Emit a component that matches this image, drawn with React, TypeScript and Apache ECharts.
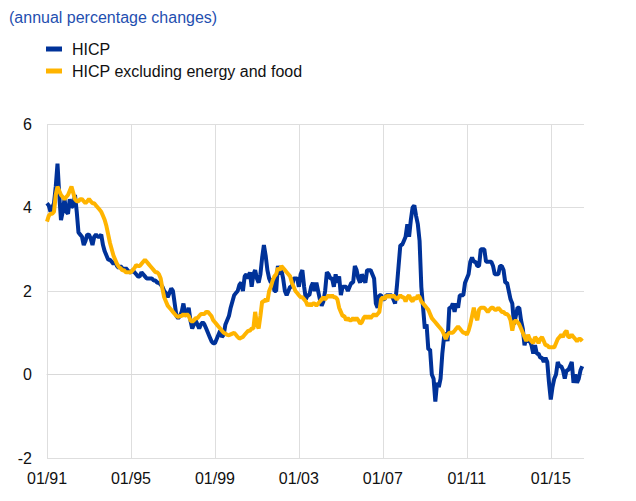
import React, { useEffect, useRef } from "react";
import * as echarts from "echarts";

// Monthly categories Jan 1991 .. Aug 2016 (last one left empty)
const startYear = 1991;
const monthCount = 308;
const categories: string[] = [];
for (let i = 0; i < monthCount; i++) {
  const y = startYear + Math.floor(i / 12);
  const m = (i % 12) + 1;
  categories.push(String(m).padStart(2, "0") + "/" + String(y % 100).padStart(2, "0"));
}

const yTicks = { min: -2, max: 6, interval: 2 };

// HICP, annual % changes, Jan 1991 - Jul 2016
const hicp: number[] = [
  // 1991
  4.1, 4.05, 3.9, 4.0, 4.1, 4.5, 5.05, 4.3, 3.7, 3.9, 4.2, 3.9,
  // 1992
  3.85, 4.2, 4.0, 4.05, 4.3, 3.9, 3.4, 3.35, 3.3, 3.1, 3.2, 3.35,
  // 1993
  3.35, 3.25, 3.1, 3.3, 3.35, 3.3, 3.3, 3.35, 3.1, 2.95, 2.85, 2.75,
  // 1994
  2.75, 2.7, 2.65, 2.7, 2.6, 2.55, 2.6, 2.55, 2.5, 2.55, 2.5, 2.45,
  // 1995
  2.45, 2.5, 2.45, 2.4, 2.35, 2.35, 2.45, 2.4, 2.35, 2.3, 2.3, 2.3,
  // 1996
  2.3, 2.25, 2.25, 2.2, 2.2, 2.15, 2.1, 2.0, 1.95, 1.85, 1.95, 2.06,
  // 1997
  2.0, 1.7, 1.4, 1.35, 1.4, 1.5, 1.7, 1.45, 1.4, 1.6, 1.3, 1.1,
  // 1998
  1.2, 1.3, 1.2, 1.1, 1.2, 1.25, 1.2, 1.1, 1.0, 0.9, 0.8, 0.75,
  // 1999
  0.75, 0.85, 0.95, 1.05, 0.9, 0.95, 1.2, 1.3, 1.4, 1.6, 1.75, 1.9,
  // 2000
  1.95, 2.0, 2.15, 2.2, 2.0, 2.35, 2.4, 2.3, 2.45, 2.1, 2.4, 2.5,
  // 2001
  2.3, 2.2, 2.4, 2.8, 3.1, 2.85, 2.5, 2.3, 2.2, 2.3, 2.0, 2.0,
  // 2002
  2.6, 2.4, 2.5, 2.3, 2.0, 1.9, 2.0, 2.1, 2.1, 2.3, 2.3, 2.3,
  // 2003
  2.1, 2.4, 2.5, 2.1, 1.8, 1.9, 1.9, 2.1, 2.2, 2.0, 2.2, 2.0,
  // 2004
  1.8, 1.65, 1.75, 2.0, 2.45, 2.4, 2.3, 2.3, 2.1, 2.4, 2.2, 2.35,
  // 2005
  1.9, 2.1, 2.1, 2.1, 2.0, 2.1, 2.2, 2.2, 2.6, 2.5, 2.3, 2.2,
  // 2006
  2.4, 2.3, 2.2, 2.5, 2.5, 2.5, 2.4, 2.3, 1.7, 1.6, 1.9, 1.9,
  // 2007
  1.8, 1.8, 1.9, 1.9, 1.9, 1.9, 1.8, 1.7, 2.1, 2.6, 3.1, 3.1,
  // 2008
  3.2, 3.3, 3.6, 3.3, 3.7, 4.0, 4.05, 3.8, 3.6, 3.2, 2.1, 1.6,
  // 2009
  1.1, 1.2, 0.6, 0.6, 0.0, -0.1, -0.65, -0.2, -0.3, -0.1, 0.5, 0.9,
  // 2010
  1.0, 0.8, 1.6, 1.6, 1.7, 1.5, 1.7, 1.6, 1.9, 1.9, 1.9, 2.2,
  // 2011
  2.3, 2.4, 2.7, 2.8, 2.7, 2.7, 2.6, 2.6, 3.0, 3.0, 3.0, 2.7,
  // 2012
  2.7, 2.7, 2.7, 2.6, 2.4, 2.4, 2.4, 2.6, 2.6, 2.5, 2.2, 2.2,
  // 2013
  2.0, 1.8, 1.7, 1.2, 1.4, 1.6, 1.6, 1.3, 1.1, 0.7, 0.9, 0.8,
  // 2014
  0.8, 0.7, 0.5, 0.7, 0.5, 0.5, 0.4, 0.4, 0.3, 0.4, 0.3, -0.2,
  // 2015
  -0.6, -0.3, -0.1, 0.0, 0.3, 0.2, 0.2, 0.1, -0.1, 0.1, 0.1, 0.2,
  // 2016
  0.3, -0.2, 0.0, -0.2, -0.1, 0.1, 0.2,
];

// HICP excluding energy and food, annual % changes
const hicpCore: number[] = [
  // 1991
  3.66, 3.8, 3.85, 3.85, 3.9, 4.3, 4.5, 4.4, 4.3, 4.25, 4.2, 4.25,
  // 1992
  4.3, 4.4, 4.5, 4.35, 4.2, 4.15, 4.15, 4.2, 4.2, 4.15, 4.1, 4.15,
  // 1993
  4.2, 4.15, 4.1, 4.1, 4.05, 4.0, 3.95, 3.9, 3.8, 3.7, 3.55, 3.35,
  // 1994
  3.15, 3.0, 2.85, 2.75, 2.65, 2.58, 2.55, 2.5, 2.5, 2.45, 2.45, 2.45,
  // 1995
  2.45, 2.5, 2.55, 2.62, 2.6, 2.6, 2.65, 2.7, 2.75, 2.7, 2.65, 2.6,
  // 1996
  2.55, 2.5, 2.45, 2.45, 2.4, 2.3, 2.05, 1.85, 1.75, 1.65, 1.6, 1.55,
  // 1997
  1.5, 1.45, 1.4, 1.38, 1.4, 1.4, 1.45, 1.4, 1.45, 1.4, 1.3, 1.26,
  // 1998
  1.3, 1.35, 1.35, 1.4, 1.45, 1.45, 1.45, 1.5, 1.5, 1.45, 1.4, 1.3,
  // 1999
  1.25, 1.2, 1.15, 1.1, 1.05, 1.0, 0.98, 0.95, 0.94, 0.96, 0.98, 1.0,
  // 2000
  0.95, 0.9, 0.86, 0.88, 0.9, 0.95, 1.0, 1.05, 1.05, 1.1, 1.1, 1.5,
  // 2001
  1.2, 1.1, 1.4, 1.75, 1.75, 1.8, 1.75, 2.0, 2.1, 2.25, 2.35, 2.4,
  // 2002
  2.55, 2.5, 2.6, 2.55, 2.5, 2.45, 2.4, 2.35, 2.2, 2.1, 2.0, 1.95,
  // 2003
  1.9, 1.85, 1.85, 1.8, 1.75, 1.65, 1.7, 1.65, 1.7, 1.7, 1.65, 1.7,
  // 2004
  1.75, 1.8, 1.85, 1.8, 1.85, 1.9, 1.85, 1.9, 1.85, 1.85, 1.8, 1.6,
  // 2005
  1.5, 1.4, 1.4, 1.3, 1.35, 1.3, 1.3, 1.35, 1.3, 1.35, 1.3, 1.22,
  // 2006
  1.25, 1.35, 1.4, 1.35, 1.4, 1.35, 1.4, 1.45, 1.4, 1.45, 1.5, 1.8,
  // 2007
  1.85, 1.8, 1.9, 1.85, 1.9, 1.85, 1.9, 1.85, 1.8, 1.85, 1.9, 1.85,
  // 2008
  1.85, 1.75, 1.85, 1.9, 1.8, 1.75, 1.85, 1.8, 1.9, 1.85, 1.75, 1.7,
  // 2009
  1.65, 1.6, 1.55, 1.45, 1.35, 1.3, 1.25, 1.2, 1.15, 1.1, 1.05, 0.95,
  // 2010
  0.85, 0.95, 1.0, 1.0, 1.0, 1.05, 1.1, 1.15, 1.1, 1.05, 1.0, 1.0,
  // 2011
  0.95, 1.05, 1.2, 1.4, 1.6, 1.4, 1.3, 1.55, 1.6, 1.6, 1.6, 1.55,
  // 2012
  1.5, 1.55, 1.6, 1.6, 1.55, 1.55, 1.6, 1.55, 1.5, 1.5, 1.45, 1.45,
  // 2013
  1.4, 1.3, 1.05, 1.25, 1.3, 1.25, 1.2, 1.1, 1.0, 0.9, 0.8, 0.95,
  // 2014
  0.85, 0.8, 0.75, 0.9, 0.85, 0.75, 0.85, 0.9, 0.8, 0.7, 0.7, 0.65,
  // 2015
  0.65, 0.65, 0.65, 0.75, 0.85, 0.9, 0.95, 0.9, 1.0, 1.05, 0.9, 0.9,
  // 2016
  0.95, 0.9, 0.85, 0.8, 0.85, 0.85, 0.8,
];

const seriesNames = ["HICP", "HICP excluding energy and food"];
const seriesColors = ["#003299", "#ffb400"];
const titleText = "(annual percentage changes)";

const FONT = "'Liberation Sans', Arial, sans-serif";

export default function App() {
  const ref = useRef<HTMLDivElement>(null);

  useEffect(() => {
    if (!ref.current) return;
    const chart = echarts.init(ref.current, undefined, { renderer: "svg" });
    chart.setOption({
      animation: false,
      backgroundColor: "#ffffff",
      textStyle: { fontFamily: FONT },
      title: {
        text: titleText,
        left: 9,
        top: 9,
        padding: 0,
        textStyle: { color: "#1f4fb0", fontSize: 16, fontWeight: "normal", fontFamily: FONT },
      },
      legend: {
        orient: "vertical",
        left: 46,
        top: 41,
        padding: 0,
        itemGap: 6,
        itemWidth: 16,
        itemHeight: 5,
        icon: "rect",
        data: seriesNames,
        textStyle: { color: "#111", fontSize: 16, fontFamily: FONT, padding: [0, 0, 0, 5] },
      },
      grid: { left: 47, right: 52, top: 124, bottom: 43, containLabel: false },
      xAxis: {
        type: "category",
        data: categories,
        boundaryGap: false,
        axisTick: { show: false },
        axisLine: { show: true, lineStyle: { color: "#d9d9d9", width: 1 } },
        axisLabel: {
          interval: 47,
          color: "#111",
          fontSize: 16,
          fontFamily: FONT,
          margin: 12,
        },
        splitLine: { show: true, interval: 47, lineStyle: { color: "#dedede", width: 1 } },
      },
      yAxis: {
        type: "value",
        min: yTicks.min,
        max: yTicks.max,
        interval: yTicks.interval,
        axisLine: { show: false },
        axisTick: { show: false },
        axisLabel: { color: "#111", fontSize: 16, fontFamily: FONT, margin: 15 },
        splitLine: { show: true, lineStyle: { color: "#dedede", width: 1 } },
      },
      series: [
        {
          name: seriesNames[0],
          type: "line",
          data: hicp,
          showSymbol: false,
          symbol: "none",
          lineStyle: { width: 4, color: seriesColors[0] },
          itemStyle: { color: seriesColors[0] },
        },
        {
          name: seriesNames[1],
          type: "line",
          data: hicpCore,
          showSymbol: false,
          symbol: "none",
          lineStyle: { width: 4, color: seriesColors[1] },
          itemStyle: { color: seriesColors[1] },
        },
      ],
    });
    return () => chart.dispose();
  }, []);

  return (
    <div
      ref={ref}
      style={{ position: "absolute", left: 0, top: 0, width: 636, height: 501 }}
    />
  );
}
